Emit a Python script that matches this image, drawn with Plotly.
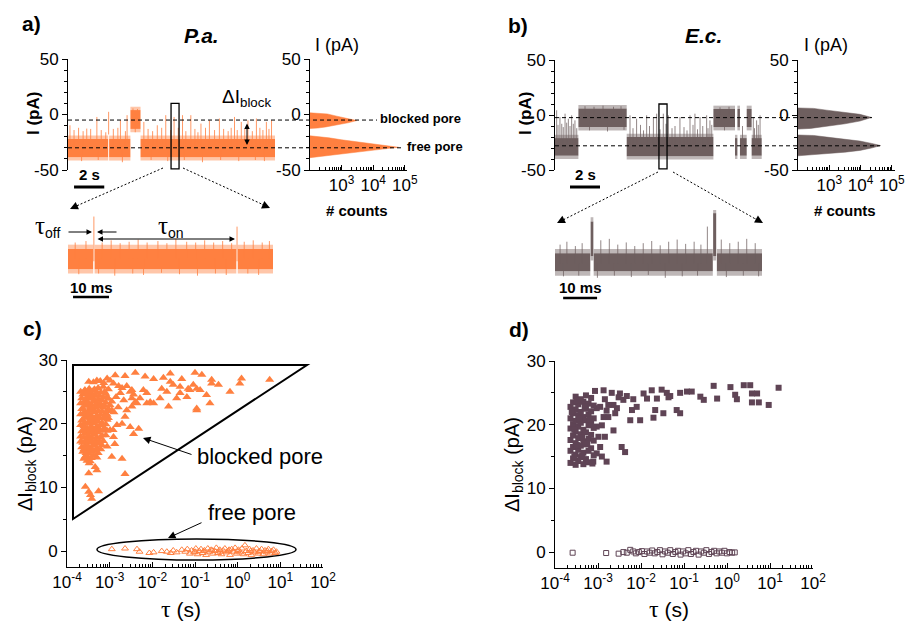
import plotly.graph_objects as go

W, H = 908, 621
SANS = "Liberation Sans, Arial, sans-serif"
SERIF = "Liberation Serif, Times New Roman, serif"
ORANGE = "#FF8040"
ORANGE_SPK = "rgba(255,128,64,0.8)"
ORANGE_EDGE = "rgba(255,128,64,0.45)"
GRAY = "#6E5F5F"
GRAY_SPK = "rgba(110,95,95,0.75)"
GRAY_EDGE = "rgba(110,95,95,0.45)"
PURPLE = "#5F4455"
NOISE = 3.0  # pA, width of the fuzzy edge drawn around each level band

# ---------------- data ----------------
# a) P.a. long current trace: level segments (t0 [s], t1 [s], low [pA], high [pA])
a_segments = [(0.00, 2.66, -38.5, -22.0), (2.72, 4.13, -38.5, -22.0),
              (4.13, 4.80, -13.0, 4.0), (4.80, 13.70, -38.5, -22.0)]
# spikes (t [s], low [pA], high [pA])
a_spikes = [(0.13, -30, -9.7), (1.24, -30, -12.7), (1.91, -30, -2.2), (2.69, -18, 2.4),
            (3.47, -30, -5.2), (3.91, -30, -0.6), (5.02, -30, -6.7), (5.91, -30, -9.7),
            (6.47, -30, -0.6), (7.02, -30, -2.2), (7.58, -30, -0.6), (8.13, -30, -0.6),
            (8.80, -30, -8.2), (9.36, -30, -5.2), (10.02, -30, -3.6), (11.02, -30, -2.2),
            (11.47, -30, -6.7), (11.91, -30, -5.2), (12.47, -30, -3.6), (13.13, -30, -6.7),
            (13.47, -30, -5.2), (0.40, -30, -14), (0.70, -30, -12), (1.00, -30, -15),
            (1.50, -30, -13), (2.20, -30, -14), (2.50, -30, -16), (3.00, -30, -13),
            (3.30, -30, -12), (3.80, -30, -15), (5.30, -30, -13), (5.60, -30, -15),
            (6.20, -30, -12), (6.80, -30, -14), (7.30, -30, -12), (7.80, -30, -15),
            (8.40, -30, -13), (8.60, -30, -16), (9.10, -30, -12), (9.70, -30, -14),
            (10.30, -30, -13), (10.60, -30, -15), (10.80, -30, -12), (11.20, -30, -14),
            (11.70, -30, -13), (12.20, -30, -15), (12.70, -30, -12), (12.90, -30, -14),
            (13.30, -30, -13), (4.30, 0, 5.5), (4.60, 0, 5.0), (4.45, -5, -16),
            (0.90, -42, -30), (2.00, -41, -30), (3.60, -43, -30), (5.50, -41, -30),
            (6.60, -42, -30), (7.70, -41, -30), (8.90, -43, -30), (10.10, -41, -30),
            (11.30, -42, -30), (12.40, -41, -30), (13.00, -42, -30)]

# a) inset (t in ms)
ai_segments = [(0.0, 7.0, -37.5, -23.5), (7.4, 46.8, -37.5, -23.5), (47.2, 57.0, -37.5, -23.5)]
ai_spikes = [(7.2, -32, -1), (47.0, -32, -8),
             (2, -30, -19), (5, -30, -18), (9.5, -30, -19), (12, -30, -17.5), (14.5, -30, -19.5),
             (17, -30, -18.5), (19.5, -30, -17), (22, -30, -19), (25, -30, -18), (27.5, -30, -19.5),
             (30, -30, -16.5), (33, -30, -18.5), (35.5, -30, -19), (38, -30, -17.5), (40.5, -30, -19),
             (43, -30, -18), (45.5, -30, -19.5), (49, -30, -18.5), (51.5, -30, -17.5), (54, -30, -19),
             (56, -30, -18),
             (3, -41, -30), (8.5, -40.5, -30), (13, -42, -30), (18, -40.5, -30), (21, -41.5, -30),
             (26, -40, -30), (31, -41, -30), (36, -42, -30), (41, -40.5, -30), (44, -41.5, -30),
             (50, -40.5, -30), (53, -41.5, -30)]

# a) histogram: current [pA] and log10(# counts)
ha_blk_I = [1.5, 1.0, 0.5, -1.5, -3.5, -5.5, -7.5, -9.5, -11.2, -12.2, -12.6]
ha_blk_logc = [2.0, 2.3, 2.55, 2.85, 3.2, 3.48, 3.2, 2.85, 2.5, 2.25, 2.0]
ha_free_I = [-19.2, -19.6, -21.0, -22.8, -24.8, -26.7, -28.4, -29.5, -30.5, -32.1, -33.9, -35.6, -37.3, -38.5, -38.9]
ha_free_logc = [2.0, 2.2, 2.6, 3.0, 3.5, 4.0, 4.5, 4.8, 4.5, 4.0, 3.5, 3.0, 2.5, 2.2, 2.0]

# b) E.c. long current trace
b_segments = [(0.00, 1.56, -37.0, -21.0), (1.56, 4.78, -11.0, 6.0), (4.78, 10.56, -37.5, -20.0),
              (10.56, 12.00, -11.0, 5.5), (12.00, 12.16, -37.0, -21.0), (12.16, 12.33, -11.0, 5.5),
              (12.33, 12.78, -37.0, -21.0), (12.78, 13.11, -11.0, 5.5), (13.11, 13.78, -37.0, -21.0)]
b_spikes = [(0.11, -30, 4.3), (0.33, -30, -1.9), (0.67, -30, 1.2), (0.89, -30, -3.4), (1.11, -30, -0.3),
            (1.33, -30, -4.9), (5.00, -30, -0.3), (5.44, -30, -3.4), (6.11, -30, -0.3), (6.56, -30, -1.9),
            (6.78, -30, 1.2), (7.22, -30, 1.2), (7.56, -30, -0.3), (8.33, -30, -1.9), (9.00, -30, -0.3),
            (9.33, -30, 1.2), (9.67, -30, -1.9), (10.11, -30, -0.3), (10.33, -30, -4.9), (13.22, -30, -1.9),
            (13.44, -30, -4.9), (13.67, -30, -0.3),
            (0.20, -30, -9), (0.45, -30, -8), (0.55, -30, -11), (0.78, -30, -7), (1.00, -30, -10),
            (1.22, -30, -8), (1.45, -30, -12), (5.20, -30, -12), (5.70, -30, -9), (5.90, -30, -14),
            (6.30, -30, -10), (7.00, -30, -13), (7.40, -30, -8), (7.80, -30, -12), (8.00, -30, -10),
            (8.60, -30, -11), (8.80, -30, -14), (9.20, -30, -9), (9.50, -30, -13), (9.85, -30, -10),
            (10.20, -30, -12), (10.45, -30, -9), (12.50, -30, -10), (13.30, -30, -12), (13.55, -30, -9),
            (2.0, 0, 8), (2.6, 0, 7.5), (3.2, 0, 8.5), (3.9, 0, 7.5), (4.4, 0, 8), (11.0, 0, 7), (11.6, 0, 7.5),
            (2.3, -5, -14), (3.5, -5, -15), (4.6, -5, -13.5), (11.3, -5, -14)]

# b) inset (t in ms)
bi_segments = [(0.0, 10.4, -35.5, -23.0), (10.5, 11.3, -25.0, -1.0), (11.4, 46.5, -35.5, -23.0),
               (46.6, 47.5, -25.0, 4.8), (47.7, 61.0, -35.5, -23.0)]
bi_spikes = [(44.9, -30, -4.5),
             (1.5, -30, -17), (3.5, -30, -15), (6, -30, -18), (8, -30, -16), (13.5, -30, -14), (16, -30, -13),
             (18.5, -30, -17), (21, -30, -15.5), (23.5, -30, -18), (26, -30, -16), (28.5, -30, -14.5),
             (31, -30, -17.5), (33.5, -30, -15), (36, -30, -13.5), (38.5, -30, -16.5), (41, -30, -15),
             (43, -30, -17), (49, -30, -13.5), (51.5, -30, -16), (54, -30, -15), (56.5, -30, -13), (59, -30, -16),
             (2.5, -39, -30), (7, -38.5, -30), (12.5, -40, -30), (17.5, -38.5, -30), (22.5, -39.5, -30),
             (27.5, -38, -30), (32.5, -40, -30), (37.5, -39, -30), (42, -38.5, -30), (50.5, -39.5, -30),
             (55.5, -38.5, -30), (60, -39, -30)]

# b) histogram
hb_blk_I = [6.4, 6.0, 4.4, 2.5, 0.6, -2.2, -5.5, -8.0, -10.4, -12.2, -12.8]
hb_blk_logc = [2.0, 2.5, 2.92, 3.5, 3.98, 4.35, 3.98, 3.5, 2.92, 2.4, 2.0]
hb_free_I = [-18.2, -18.6, -20.1, -21.8, -23.7, -25.8, -27.8, -30.0, -32.2, -33.8, -35.3, -36.6, -37.1]
hb_free_logc = [2.0, 2.5, 2.92, 3.5, 3.98, 4.35, 4.64, 4.35, 3.98, 3.5, 2.92, 2.4, 2.0]

# c) P.a. scatter: (log10 tau [s], dI_block [pA])
c_blocked = [(-3.49, 26.6), (-3.22, 26.7), (-3.06, 27.1), (-2.87, 27.6), (-2.64, 27.5), (-2.40, 28.0),
             (-2.17, 27.4), (-1.97, 27.0), (-1.74, 27.2), (-1.58, 27.9), (-1.31, 27.0), (-1.00, 28.0),
             (-0.84, 27.7), (-0.61, 26.9), (-0.61, 26.3), (-0.45, 26.1), (0.09, 27.1), (0.05, 26.3),
             (0.75, 26.9), (-1.58, 26.6), (-1.51, 26.1), (-1.35, 25.8), (-1.16, 25.5), (-1.12, 25.3),
             (-0.96, 25.5), (-1.04, 26.1), (-0.88, 25.3), (-0.73, 24.5), (-1.19, 24.2), (-1.43, 24.0),
             (-1.35, 24.8), (-1.66, 25.0), (-1.82, 24.0), (-1.62, 22.7), (-2.05, 23.4), (-2.13, 23.2),
             (-1.97, 23.2), (-2.29, 24.0), (-2.36, 23.2), (-2.48, 22.7), (-2.40, 23.4), (-2.60, 22.1),
             (-2.83, 19.8), (-2.64, 21.1), (-2.71, 20.0), (-2.52, 19.5), (-2.32, 19.2), (-2.44, 18.4),
             (-0.96, 22.4), (-0.96, 22.1), (-0.65, 23.2), (-0.18, 25.0), (-2.13, 24.8), (-2.21, 25.3),
             (-1.78, 25.5), (-2.48, 25.3), (-2.48, 24.0), (-2.67, 23.7), (-2.99, 22.9), (-2.95, 22.1),
             (-3.06, 20.6), (-2.99, 19.0), (-2.91, 17.9), (-3.06, 16.4), (-2.95, 14.8), (-2.71, 14.5),
             (-2.64, 12.1), (-3.30, 12.7), (-3.49, 12.2), (-3.34, 13.2), (-3.57, 10.1), (-3.49, 9.3),
             (-3.42, 8.2), (-3.26, 9.4), (-3.45, 8.8),
             (-3.38, 26.5), (-3.30, 26.8), (-3.14, 26.4), (-2.99, 26.8), (-2.91, 26.3), (-2.79, 25.9),
             (-2.71, 25.6), (-2.60, 25.9), (-2.52, 25.0), (-2.44, 24.6),
             (-2.95, 23.5), (-2.90, 21.8), (-2.85, 24.2), (-2.80, 22.6), (-2.92, 19.0), (-2.75, 24.8),
             (-2.88, 16.8),
             (-3.68, 25.0), (-3.68, 23.2), (-3.68, 21.5), (-3.68, 19.8), (-3.68, 18.0), (-3.68, 17.2),
             (-3.63, 24.6), (-3.63, 22.4), (-3.63, 20.6), (-3.63, 18.9), (-3.63, 17.0), (-3.63, 15.6),
             (-3.58, 25.3), (-3.58, 23.6), (-3.58, 21.9), (-3.58, 20.2), (-3.58, 18.5), (-3.58, 16.5), (-3.58, 14.8),
             (-3.53, 24.2), (-3.53, 22.8), (-3.53, 21.0), (-3.53, 19.3), (-3.53, 17.6), (-3.53, 15.9), (-3.53, 14.2),
             (-3.48, 25.5), (-3.48, 23.9), (-3.48, 22.1), (-3.48, 20.4), (-3.48, 18.7), (-3.48, 17.0),
             (-3.48, 15.3), (-3.48, 13.8),
             (-3.43, 24.8), (-3.43, 23.0), (-3.43, 21.3), (-3.43, 19.6), (-3.43, 17.9), (-3.43, 16.2), (-3.43, 14.6),
             (-3.38, 25.2), (-3.38, 23.5), (-3.38, 21.8), (-3.38, 20.1), (-3.38, 18.3), (-3.38, 16.6), (-3.38, 15.0),
             (-3.33, 24.4), (-3.33, 22.6), (-3.33, 20.9), (-3.33, 19.2), (-3.33, 17.4), (-3.33, 15.8),
             (-3.27, 25.6), (-3.27, 23.8), (-3.27, 22.0), (-3.27, 20.3), (-3.27, 18.6), (-3.27, 16.9), (-3.27, 15.4),
             (-3.21, 24.9), (-3.21, 23.1), (-3.21, 21.4), (-3.21, 19.7), (-3.21, 17.8), (-3.21, 16.0),
             (-3.15, 25.8), (-3.15, 24.1), (-3.15, 22.5), (-3.15, 20.8), (-3.15, 19.0), (-3.15, 17.3),
             (-3.09, 24.7), (-3.09, 23.3), (-3.09, 21.6), (-3.09, 19.9), (-3.09, 18.2),
             (-3.03, 25.4), (-3.03, 23.9), (-3.03, 22.3), (-3.03, 20.9),
             (-3.655, 24.0), (-3.655, 22.3), (-3.655, 20.5), (-3.655, 18.8), (-3.655, 16.3),
             (-3.605, 25.0), (-3.605, 23.2), (-3.605, 21.5), (-3.605, 19.6), (-3.605, 17.8), (-3.605, 16.0),
             (-3.605, 14.5),
             (-3.555, 24.8), (-3.555, 22.9), (-3.555, 21.2), (-3.555, 19.0), (-3.555, 17.2), (-3.555, 15.4),
             (-3.505, 25.0), (-3.505, 23.3), (-3.505, 21.6), (-3.505, 20.0), (-3.505, 18.2), (-3.505, 16.4),
             (-3.505, 14.7),
             (-3.455, 24.3), (-3.455, 22.6), (-3.455, 20.9), (-3.455, 19.1), (-3.455, 17.4), (-3.455, 15.8),
             (-3.455, 14.1),
             (-3.405, 24.0), (-3.405, 22.4), (-3.405, 20.7), (-3.405, 19.0), (-3.405, 17.2), (-3.405, 15.6),
             (-3.355, 25.4), (-3.355, 23.7), (-3.355, 22.0), (-3.355, 20.5), (-3.355, 18.8), (-3.355, 16.9),
             (-3.30, 24.9), (-3.30, 23.2), (-3.30, 21.3), (-3.30, 19.6), (-3.30, 17.9), (-3.30, 16.2), (-3.30, 14.7),
             (-3.24, 24.4), (-3.24, 22.7), (-3.24, 20.9), (-3.24, 19.1), (-3.24, 17.2),
             (-3.18, 23.7), (-3.18, 21.9), (-3.18, 20.1), (-3.18, 18.2), (-3.18, 16.6),
             (-3.12, 25.0), (-3.12, 22.8), (-3.12, 21.1), (-3.12, 19.3),
             (-3.06, 24.2), (-3.06, 22.0), (-3.06, 21.4), (-3.06, 18.9)]
c_free = [(-2.95, 0.3), (-2.64, 0.4), (-2.36, 0.3), (-2.30, -0.1), (-2.07, -0.3), (-1.97, -0.2),
          (-1.78, 0.0), (-1.66, -0.1), (-1.57, -0.3), (-1.51, 0.1), (-1.43, -0.2), (-1.31, 0.2),
          (-1.23, -0.1), (-1.18, 0.3), (-1.12, -0.4), (-1.08, 0.1), (-1.02, -0.2), (-0.98, 0.4),
          (-0.94, -0.5), (-0.90, 0.0), (-0.86, 0.3), (-0.82, -0.3), (-0.78, 0.1), (-0.74, -0.6),
          (-0.70, 0.4), (-0.66, -0.1), (-0.62, 0.2), (-0.58, -0.4), (-0.54, 0.0), (-0.50, 0.5),
          (-0.46, -0.3), (-0.42, 0.2), (-0.38, -0.5), (-0.34, 0.1), (-0.30, 0.4), (-0.26, -0.2),
          (-0.22, 0.0), (-0.18, -0.6), (-0.14, 0.3), (-0.10, -0.1), (-0.06, 0.5), (-0.02, -0.4),
          (0.02, 0.2), (0.06, -0.2), (0.10, 0.4), (0.14, -0.5), (0.17, 0.9), (0.20, 0.0),
          (0.24, -0.3), (0.28, 0.3), (0.32, -0.6), (0.36, 0.1), (0.40, -0.2), (0.44, 0.4),
          (0.48, -0.4), (0.52, 0.0), (0.56, 0.3), (0.60, -0.5), (0.64, 0.1), (0.68, -0.2),
          (0.72, 0.3), (0.76, -0.4), (0.80, 0.0), (0.84, 0.2), (0.88, -0.3), (0.91, -0.1),
          (-1.00, -0.1), (-0.80, 0.0), (-0.60, 0.1), (-0.40, -0.1), (-0.20, 0.2), (0.00, 0.0),
          (0.30, 0.0), (0.50, -0.1), (0.70, 0.0)]

# d) E.c. scatter
d_blocked = [(-3.07, 25.3), (-2.87, 25.4), (-2.68, 25.0), (-2.49, 24.9), (-2.33, 24.5), (-2.18, 24.0),
             (-1.94, 24.9), (-1.75, 25.4), (-1.52, 25.5), (-1.40, 25.0), (-1.32, 24.5), (-1.09, 25.0),
             (-0.93, 25.2), (-0.62, 24.4), (-0.31, 26.1), (-0.23, 24.1), (0.08, 25.9), (0.19, 24.7),
             (0.23, 24.0), (0.39, 26.2), (0.54, 26.2), (0.58, 24.9), (0.70, 24.9), (0.74, 23.5),
             (0.97, 23.1), (1.20, 25.8), (0.58, 23.5), (-0.82, 25.2), (-0.54, 23.9), (-1.17, 22.3),
             (-1.09, 21.8), (-1.48, 21.8), (-1.67, 22.3), (-1.71, 21.1), (-2.02, 20.7), (-2.21, 22.3),
             (-2.25, 20.7), (-2.56, 22.6), (-2.64, 23.1), (-2.80, 22.2), (-2.76, 21.2), (-2.64, 19.1),
             (-2.45, 16.5), (-2.37, 15.7), (-2.80, 14.2), (-2.91, 15.0), (-2.10, 22.8), (-1.86, 24.1),
             (-1.63, 24.1), (-1.36, 24.3), (-2.52, 24.3), (-2.41, 23.9), (-2.84, 24.0), (-2.76, 23.1),
             (-2.60, 21.8), (-2.95, 22.8), (-3.03, 22.6), (-2.87, 21.2), (-2.91, 19.9), (-3.03, 19.7),
             (-2.99, 18.1), (-2.84, 18.1), (-2.95, 16.5), (-3.03, 15.5), (-3.11, 14.2),
             (-3.64, 22.8), (-3.64, 21.0), (-3.64, 19.4), (-3.64, 17.6), (-3.64, 15.9), (-3.64, 14.0),
             (-3.58, 23.5), (-3.58, 21.8), (-3.58, 20.1), (-3.58, 18.3), (-3.58, 16.5), (-3.58, 14.7),
             (-3.52, 24.4), (-3.52, 22.4), (-3.52, 20.6), (-3.52, 18.9), (-3.52, 17.1), (-3.52, 15.3), (-3.52, 13.7),
             (-3.46, 23.2), (-3.46, 21.5), (-3.46, 19.7), (-3.46, 17.9), (-3.46, 16.1), (-3.46, 14.3),
             (-3.40, 24.0), (-3.40, 22.0), (-3.40, 20.3), (-3.40, 18.5), (-3.40, 16.7), (-3.40, 14.9),
             (-3.34, 23.6), (-3.34, 21.2), (-3.34, 19.2), (-3.34, 17.4), (-3.34, 15.6), (-3.34, 13.8),
             (-3.28, 24.6), (-3.28, 22.5), (-3.28, 20.7), (-3.28, 18.8), (-3.28, 16.9), (-3.28, 14.6),
             (-3.22, 23.3), (-3.22, 21.6), (-3.22, 19.9), (-3.22, 17.8), (-3.22, 15.9), (-3.22, 14.1),
             (-3.16, 24.2), (-3.16, 22.1), (-3.16, 20.2), (-3.16, 18.4), (-3.16, 16.3),
             (-3.10, 23.0), (-3.10, 21.0), (-3.10, 19.5), (-3.10, 17.5), (-3.10, 15.2),
             (-3.61, 22.0), (-3.55, 19.2), (-3.49, 16.8), (-3.43, 20.9), (-3.37, 18.0), (-3.31, 22.8),
             (-3.25, 17.0), (-3.19, 20.8), (-3.13, 13.9), (-3.55, 15.0), (-3.37, 15.2), (-3.49, 23.8)]
d_free = [(-3.59, -0.1), (-2.81, -0.15), (-2.52, -0.25), (-2.41, 0.0), (-2.33, -0.1), (-2.25, 0.35),
          (-2.18, 0.1), (-2.12, -0.2), (-2.05, 0.0), (-1.98, 0.15), (-1.92, -0.3), (-1.86, 0.1),
          (-1.80, -0.1), (-1.74, 0.25), (-1.68, -0.2), (-1.62, 0.0), (-1.56, 0.3), (-1.50, -0.35),
          (-1.44, 0.1), (-1.38, -0.1), (-1.32, 0.3), (-1.26, -0.3), (-1.20, 0.0), (-1.14, 0.2),
          (-1.08, -0.4), (-1.02, 0.1), (-0.96, -0.2), (-0.90, 0.3), (-0.84, -0.3), (-0.78, 0.0),
          (-0.72, 0.2), (-0.66, -0.4), (-0.60, 0.1), (-0.54, -0.1), (-0.48, 0.3), (-0.42, -0.3),
          (-0.36, 0.0), (-0.30, 0.2), (-0.24, -0.2), (-0.18, 0.1), (-0.12, -0.1), (-0.06, 0.2),
          (0.00, -0.2), (0.06, 0.0), (0.12, -0.1), (0.18, -0.05)]

tau_ticks = [1e-4, 1e-3, 1e-2, 1e-1, 1e0, 1e1, 1e2]
tau_ticktext = ["10<sup>-4</sup>", "10<sup>-3</sup>", "10<sup>-2</sup>", "10<sup>-1</sup>",
                "10<sup>0</sup>", "10<sup>1</sup>", "10<sup>2</sup>"]
count_ticks = [1e3, 1e4, 1e5]
count_ticktext = ["10<sup>3</sup>", "10<sup>4</sup>", "10<sup>5</sup>"]
I_ticks = [-50, 0, 50]
dI_ticks = [0, 10, 20, 30]

# ---------------- helpers ----------------
def dx(x0, x1):
    return [x0 / W, x1 / W]


def dy(y0, y1):
    return [1 - y1 / H, 1 - y0 / H]


def px(x):
    return x / W


def py(y):
    return 1 - y / H


fig = go.Figure()


def add_segments(segs, xa, ya, color, edge_color):
    # fuzzy noise envelope above and below each level band
    fig.add_trace(go.Bar(
        x=[(s[0] + s[1]) / 2 for s in segs] * 2, width=[s[1] - s[0] for s in segs] * 2,
        base=[s[3] for s in segs] + [s[2] - NOISE for s in segs], y=[NOISE] * (2 * len(segs)),
        marker=dict(color=edge_color, line=dict(width=0)), xaxis=xa, yaxis=ya, hoverinfo="skip"))
    fig.add_trace(go.Bar(
        x=[(s[0] + s[1]) / 2 for s in segs], width=[s[1] - s[0] for s in segs],
        base=[s[2] for s in segs], y=[s[3] - s[2] for s in segs],
        marker=dict(color=color, line=dict(width=0)), xaxis=xa, yaxis=ya, hoverinfo="skip"))


def add_spikes(spk, xa, ya, color):
    xs, ys = [], []
    for t, lo, hi in spk:
        xs += [t, t, None]
        ys += [lo, hi, None]
    fig.add_trace(go.Scatter(x=xs, y=ys, mode="lines", line=dict(color=color, width=1),
                             xaxis=xa, yaxis=ya, hoverinfo="skip"))


def add_hist(I, logc, xa, ya, color):
    fig.add_trace(go.Scatter(x=[10 ** v for v in logc], y=I, mode="lines", fill="toself",
                             fillcolor=color, line=dict(color=color, width=0.5),
                             xaxis=xa, yaxis=ya, hoverinfo="skip"))


def add_scatter(pts, xa, ya, symbol, size, color, lw=0):
    fig.add_trace(go.Scatter(x=[10 ** p[0] for p in pts], y=[p[1] for p in pts], mode="markers",
                             marker=dict(symbol=symbol, size=size, color=color,
                                         line=dict(color=color, width=lw)),
                             xaxis=xa, yaxis=ya, hoverinfo="skip"))


# traces
add_segments(a_segments, "x", "y", ORANGE, ORANGE_EDGE)
add_spikes(a_spikes, "x", "y", ORANGE_SPK)
add_hist(ha_blk_I, ha_blk_logc, "x2", "y2", ORANGE)
add_hist(ha_free_I, ha_free_logc, "x2", "y2", ORANGE)
add_segments(ai_segments, "x3", "y3", ORANGE, ORANGE_EDGE)
add_spikes(ai_spikes, "x3", "y3", ORANGE_SPK)
add_segments(b_segments, "x4", "y4", GRAY, GRAY_EDGE)
add_spikes(b_spikes, "x4", "y4", GRAY_SPK)
add_hist(hb_blk_I, hb_blk_logc, "x5", "y5", GRAY)
add_hist(hb_free_I, hb_free_logc, "x5", "y5", GRAY)
add_segments(bi_segments, "x6", "y6", GRAY, GRAY_EDGE)
add_spikes(bi_spikes, "x6", "y6", GRAY_SPK)
add_scatter(c_blocked, "x7", "y7", "triangle-up", 8, ORANGE)
add_scatter(c_free, "x7", "y7", "triangle-up-open", 6, ORANGE, 1)
add_scatter(d_blocked, "x8", "y8", "square", 6, PURPLE)
add_scatter(d_free, "x8", "y8", "square-open", 5, PURPLE, 1)

# ---------------- axes ----------------
TF = dict(family=SANS, size=17, color="black")


def lin_y(domain, anchor, rng, vals, minor):
    return dict(domain=domain, anchor=anchor, range=rng, tickmode="array", tickvals=vals,
                ticktext=[str(v) for v in vals], ticks="outside", ticklen=5, tickwidth=1,
                tickcolor="black", showline=True, linecolor="black", linewidth=1,
                showgrid=False, zeroline=False, tickfont=TF, fixedrange=True, automargin=False,
                minor=dict(tickmode="array", tickvals=minor, ticks="outside", ticklen=3,
                           tickcolor="black", showgrid=False))


def log_x(domain, anchor, rng, vals, text, minor):
    return dict(domain=domain, anchor=anchor, type="log", range=rng, tickmode="array",
                tickvals=vals, ticktext=text, ticks="inside", ticklen=5, tickwidth=1,
                tickcolor="black", showline=True, linecolor="black", linewidth=1,
                showgrid=False, zeroline=False, tickfont=TF, fixedrange=True, automargin=False,
                minor=dict(tickmode="array", tickvals=minor, ticks="inside", ticklen=3,
                           tickcolor="black", showgrid=False))


def hidden(domain, anchor, rng):
    return dict(domain=domain, anchor=anchor, range=rng, visible=False, fixedrange=True,
                automargin=False)


I_minor = [-40, -30, -20, -10, 10, 20, 30, 40]
cnt_minor = [m * 10 ** e for e in (2, 3, 4) for m in range(2, 10)]
tau_minor = [m * 10.0 ** e for e in (-4, -3, -2, -1, 0, 1) for m in range(2, 10)]

layout = dict(
    width=W, height=H, margin=dict(l=0, r=0, t=0, b=0, pad=0, autoexpand=False), autosize=False,
    paper_bgcolor="white", plot_bgcolor="white", showlegend=False, barmode="overlay",
    font=dict(family=SANS, color="black"),
    xaxis=hidden(dx(68, 275), "y", [0, 13.7]),
    yaxis=lin_y(dy(59, 170), "x", [-50, 50], I_ticks, I_minor),
    xaxis2=log_x(dx(310, 407), "y2", [2, 5.07], count_ticks, count_ticktext, cnt_minor),
    yaxis2=lin_y(dy(59, 170), "x2", [-50, 50], I_ticks, I_minor),
    xaxis3=hidden(dx(68, 273), "y3", [0, 57]),
    yaxis3=hidden(dy(205, 280), "x3", [-45, 7]),
    xaxis4=hidden(dx(555, 762), "y4", [0, 13.8]),
    yaxis4=lin_y(dy(60, 170), "x4", [-50, 50], I_ticks, I_minor),
    xaxis5=log_x(dx(798, 895), "y5", [2, 5.1], count_ticks, count_ticktext, cnt_minor),
    yaxis5=lin_y(dy(60, 170), "x5", [-50, 50], I_ticks, I_minor),
    xaxis6=hidden(dx(555, 762), "y6", [0, 61]),
    yaxis6=hidden(dy(210, 285), "x6", [-45, 7]),
    xaxis7=log_x(dx(67, 323), "y7", [-4, 2], tau_ticks, tau_ticktext, tau_minor),
    yaxis7=lin_y(dy(360, 567), "x7", [-2.5, 30], dI_ticks, [5, 15, 25]),
    xaxis8=log_x(dx(555, 813), "y8", [-4, 2], tau_ticks, tau_ticktext, tau_minor),
    yaxis8=lin_y(dy(361, 568), "x8", [-2.5, 30], dI_ticks, [5, 15, 25]),
)

# ---------------- shapes ----------------
shapes = []


def hline_paper(x0, x1, y, yref, dash="4px,3px", width=1):
    shapes.append(dict(type="line", xref="paper", yref=yref, x0=px(x0), x1=px(x1), y0=y, y1=y,
                       line=dict(color="black", width=width, dash=dash)))


def pline(x0, y0, x1, y1, dash="solid", width=1):
    shapes.append(dict(type="line", xref="paper", yref="paper", x0=px(x0), y0=py(y0),
                       x1=px(x1), y1=py(y1), line=dict(color="black", width=width, dash=dash)))


def scalebar(xref, t0, t1, y, width):
    shapes.append(dict(type="line", xref=xref, yref="paper", x0=t0, x1=t1, y0=py(y), y1=py(y),
                       line=dict(color="black", width=width)))


# dashed level lines
hline_paper(68, 377, -5, "y")
hline_paper(68, 403, -30, "y")
hline_paper(555, 872, -2.4, "y4")
hline_paper(555, 880, -28, "y4")
# zoom boxes
shapes.append(dict(type="rect", xref="x", yref="y", x0=6.82, x1=7.35, y0=-49, y1=10,
                   line=dict(color="black", width=1.3)))
shapes.append(dict(type="rect", xref="x4", yref="y4", x0=6.93, x1=7.47, y0=-49, y1=10,
                   line=dict(color="black", width=1.3)))
# dotted connector lines
pline(163, 168, 74, 207, dash="2px,2px")
pline(183, 168, 266, 206, dash="2px,2px")
pline(658, 172, 561, 221, dash="2px,2px")
pline(673, 172, 759, 221, dash="2px,2px")
# scale bars
scalebar("x", 0.4, 2.4, 187, 3)
scalebar("x4", 1.0, 3.0, 187, 3)
scalebar("x3", 1.4, 11.4, 297, 2.5)
scalebar("x6", 2.4, 12.4, 298, 2.5)
# triangle and ellipse in c)
shapes.append(dict(type="path", xref="paper", yref="paper",
                   path=f"M {px(73)} {py(365)} L {px(307)} {py(365)} L {px(73)} {py(519)} Z",
                   line=dict(color="black", width=2)))
shapes.append(dict(type="circle", xref="paper", yref="paper", x0=px(97), x1=px(296),
                   y0=py(560), y1=py(539), line=dict(color="black", width=1.5)))
layout["shapes"] = shapes

# ---------------- annotations ----------------
anns = []


def txt(x, y, s, size, bold=False, italic=False, xanchor="center", yanchor="middle", angle=0,
        family=SANS):
    if bold:
        s = f"<b>{s}</b>"
    if italic:
        s = f"<i>{s}</i>"
    anns.append(dict(x=px(x), y=py(y), xref="paper", yref="paper", text=s, showarrow=False,
                     font=dict(family=family, size=size, color="black"), xanchor=xanchor,
                     yanchor=yanchor, textangle=angle))


def arrow(hx, hy, tx, ty, side="end", size=1.3, width=1):
    anns.append(dict(x=px(hx), y=py(hy), xref="paper", yref="paper", ax=tx - hx, ay=ty - hy,
                     axref="pixel", ayref="pixel", text="", showarrow=True, arrowhead=2,
                     arrowsize=size, arrowwidth=width, arrowcolor="black", arrowside=side,
                     standoff=0, startstandoff=0))


TAU = "<span style=\"font-family:'Liberation Serif';font-size:25px\">τ</span>"

# a)
txt(31, 24, "a)", 21, bold=True)
txt(201, 35, "P.a.", 21, bold=True, italic=True)
txt(33, 114, "I (pA)", 17, bold=True, angle=-90)
txt(337, 45, "I (pA)", 18)
txt(89, 175, "2 s", 15, bold=True)
txt(357, 211, "# counts", 15, bold=True)
txt(378, 119, "blocked pore", 13, bold=True, xanchor="left")
txt(405, 147, "free pore", 13, bold=True, xanchor="left")
txt(220, 98, "ΔI<sub>block</sub>", 19, xanchor="left")
arrow(247, 145, 247, 122, side="end+start", size=1.1)
txt(33, 226, TAU + "<sub>off</sub>", 20, xanchor="left")
txt(156, 226, TAU + "<sub>on</sub>", 20, xanchor="left")
arrow(92, 232, 67, 232, size=1.1)
arrow(97, 232, 118, 232, size=1.1)
arrow(235, 239, 96, 239, side="end+start", size=1.1)
txt(91, 287, "10 ms", 15, bold=True)
arrow(70, 209, 80, 204.5, size=1.6)
arrow(270, 208, 261, 204, size=1.6)

# b)
txt(518, 26, "b)", 21, bold=True)
txt(703, 35, "E.c.", 21, bold=True, italic=True)
txt(525, 114, "I (pA)", 17, bold=True, angle=-90)
txt(826, 45, "I (pA)", 18)
txt(585, 175, "2 s", 15, bold=True)
txt(845, 211, "# counts", 15, bold=True)
txt(580, 287, "10 ms", 15, bold=True)
arrow(557, 223, 566, 218.5, size=1.6)
arrow(763, 223, 754, 218, size=1.6)

# c)
txt(32, 328, "c)", 21, bold=True)
txt(26, 464, "ΔI<sub>block</sub> (pA)", 20, angle=-90)
txt(181, 609, TAU.replace("25px", "24px") + " (s)", 21)
txt(195, 456, "blocked pore", 22, xanchor="left")
arrow(143, 438, 193, 455, size=1.5)
txt(252, 512, "free pore", 22)
arrow(168, 538, 203, 522, size=1.5)

# d)
txt(519, 329, "d)", 21, bold=True)
txt(513, 465, "ΔI<sub>block</sub> (pA)", 20, angle=-90)
txt(669, 609, TAU.replace("25px", "24px") + " (s)", 21)

layout["annotations"] = anns
fig.update_layout(**layout)
fig.write_html("out.html")

# make sure the page itself adds no margin around the figure
with open("out.html", encoding="utf-8") as f:
    html = f.read()
html = html.replace("<head>", "<head><style>html,body{margin:0;padding:0;overflow:hidden;}</style>", 1)
with open("out.html", "w", encoding="utf-8") as f:
    f.write(html)
